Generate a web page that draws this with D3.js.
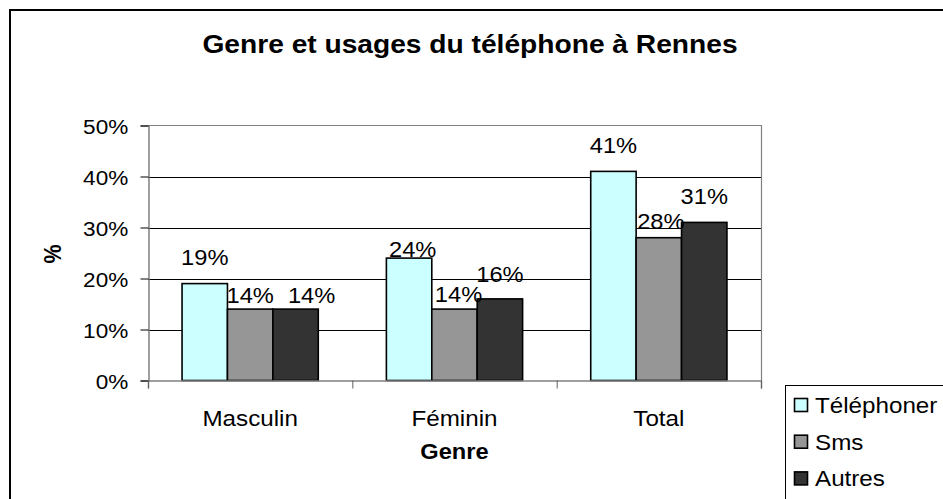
<!DOCTYPE html>
<html><head><meta charset="utf-8">
<script src="https://cdn.jsdelivr.net/npm/d3@7"></script>
<style>body{margin:0;background:#fff}svg{display:block}text{font-family:"Liberation Sans",Arial,sans-serif}</style>
</head><body>
<svg id="c" width="943" height="499"></svg>
<script>
const categories = ["Masculin", "Féminin", "Total"];
const seriesNames = ["Téléphoner", "Sms", "Autres"];
const telephoner = [19, 24, 41];
const sms = [14, 14, 28];
const autres = [14, 16, 31];
const yTicks = [0, 10, 20, 30, 40, 50];
const colors = ["#CCFFFF", "#969696", "#333333"];
const title = "Genre et usages du téléphone à Rennes";
const xTitle = "Genre";
const yTitle = "%";

// label placement (baseline gap above bar top, horizontal shift), per series then category
const labelGap = [[18.5, 1.6, 18.5], [6, 7.6, 9], [6, 17.4, 18.3]];
const labelShift = [[0, 3.6, 0], [0, 4, 2], [16, 0, 0]];

const seriesValues = [telephoner, sms, autres];
const svg = d3.select("#c");
const L = 148, R = 761, T = 125.5, B = 380.5;
const SX = 1.1;

function stext(x, y, str, size, opts = {}) {
  return svg.append("text")
    .attr("transform", `translate(${x},${y}) scale(${opts.sx || SX},1)${opts.rot ? " rotate(" + opts.rot + ")" : ""}`)
    .attr("text-anchor", opts.anchor || "middle")
    .attr("font-size", size)
    .attr("font-weight", opts.bold ? "bold" : "normal")
    .attr("dy", opts.dy || 0)
    .attr("fill", "#000")
    .text(str);
}

// outer border
svg.append("rect").attr("x", 10).attr("y", 10).attr("width", 1000).attr("height", 1000)
  .attr("fill", "none").attr("stroke", "#000").attr("stroke-width", 2);

const x0 = d3.scaleBand().domain(categories).range([L, R]).padding(0);
const x1 = d3.scaleBand().domain(seriesNames).range([0, x0.bandwidth()]).paddingInner(0).paddingOuter(0.75);
const y = d3.scaleLinear().domain([0, 50]).range([B, T]);

// gridlines
svg.append("g").selectAll("line").data(yTicks.filter(d => d > 0 && d < 50)).join("line")
  .attr("x1", L).attr("x2", R).attr("y1", d => Math.round(y(d)) + 0.5).attr("y2", d => Math.round(y(d)) + 0.5)
  .attr("stroke", "#000").attr("stroke-width", 1);
// plot border top/right
svg.append("path").attr("d", `M${L},${T}H${R + 0.5}V${B}`).attr("fill", "none").attr("stroke", "#808080").attr("stroke-width", 1.2);

// bars
const groups = svg.append("g").selectAll("g").data(categories).join("g")
  .attr("transform", d => `translate(${x0(d)},0)`);
groups.selectAll("rect").data((c, i) => seriesNames.map((s, j) => ({ s, j, v: seriesValues[j][i] }))).join("rect")
  .attr("x", d => x1(d.s)).attr("width", x1.bandwidth())
  .attr("y", d => y(d.v)).attr("height", d => B - y(d.v))
  .attr("fill", d => colors[d.j]).attr("stroke", "#000").attr("stroke-width", 1.6);

// y axis
const yAxis = svg.append("g").attr("transform", `translate(${L + 0.5},0)`)
  .call(d3.axisLeft(y).tickValues(yTicks).tickSize(8).tickFormat(d => d + "%"));
yAxis.select(".domain").attr("stroke", "#808080").attr("stroke-width", 1.5);
yAxis.selectAll(".tick line").attr("stroke", "#000");
yAxis.selectAll(".tick text").attr("font-size", 20.5).attr("font-family", "Liberation Sans, Arial, sans-serif")
  .attr("x", -20.3 / SX).attr("dy", "0.37em").attr("transform", `scale(${SX},1)`).attr("fill", "#000");

// x axis line and boundary ticks
const xb = d3.scaleLinear().domain([0, 3]).range([L, R]);
const xAxis = svg.append("g").attr("transform", `translate(0,${B})`)
  .call(d3.axisBottom(xb).tickValues([0, 1, 2, 3]).tickSize(8).tickFormat(""));
xAxis.select(".domain").attr("stroke", "#808080").attr("stroke-width", 1.5);
xAxis.selectAll(".tick line").attr("stroke", "#606060");

// category labels
const xLab = svg.append("g").attr("transform", `translate(0,${B})`)
  .call(d3.axisBottom(x0).tickSize(0).tickPadding(0));
xLab.select(".domain").remove();
xLab.selectAll(".tick text").attr("font-size", 22).attr("font-family", "Liberation Sans, Arial, sans-serif")
  .attr("y", 45.2).attr("dy", 0).attr("transform", `scale(${SX},1)`).attr("fill", "#000");
xLab.selectAll(".tick").each(function (d) {
  const cx = x0(d) + x0.bandwidth() / 2;
  d3.select(this).attr("transform", `translate(${cx},0)`);
});

// data labels
categories.forEach((c, i) => {
  seriesNames.forEach((s, j) => {
    const v = seriesValues[j][i];
    stext(x0(c) + x1(s) + x1.bandwidth() / 2 + labelShift[j][i], y(v) - labelGap[j][i], v + "%", 21.5);
  });
});

// titles
stext(470, 53, title, 25.6, { bold: true, sx: 1.1 });
stext(454.5, 459.3, xTitle, 21.5, { bold: true, sx: 1.1 });
stext(52.5, 254, yTitle, 21.5, { bold: true, sx: 1.1, rot: -90, dy: "0.35em" });

// legend
svg.append("rect").attr("x", 785.5).attr("y", 385.5).attr("width", 300).attr("height", 300)
  .attr("fill", "#fff").attr("stroke", "#000").attr("stroke-width", 1);
seriesNames.forEach((s, j) => {
  const yy = 398.5 + j * 36.7;
  svg.append("rect").attr("x", 794.5).attr("y", yy).attr("width", 13).attr("height", 13)
    .attr("fill", colors[j]).attr("stroke", "#000").attr("stroke-width", 1.6);
  stext(815, yy + 14.5, s, 22, { anchor: "start", sx: 1.1 });
});
</script>
</body></html>
